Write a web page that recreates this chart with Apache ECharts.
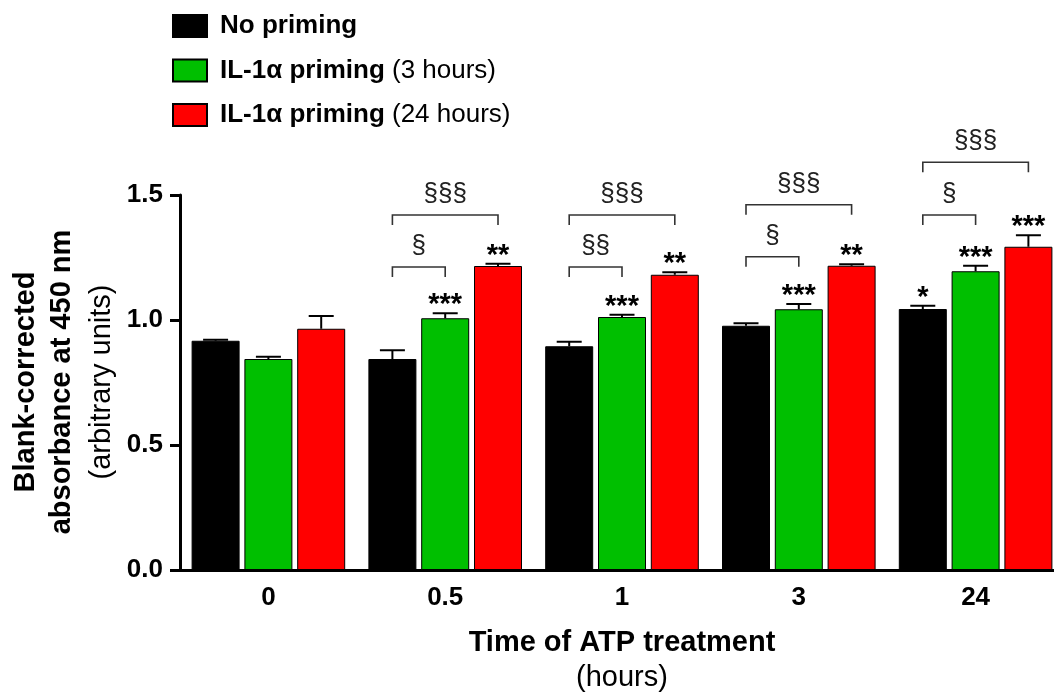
<!DOCTYPE html>
<html>
<head>
<meta charset="utf-8">
<script src="https://cdn.jsdelivr.net/npm/echarts@6/dist/echarts.min.js"></script>
<style>
html,body{margin:0;padding:0;background:#fff;}
#chart{width:1054px;height:694px;}
</style>
</head>
<body>
<div id="chart"></div>
<script>
// ---- data ----
const categories = ['0', '0.5', '1', '3', '24'];
const seriesNames = ['No priming', 'IL-1\u03b1 priming (3 hours)', 'IL-1\u03b1 priming (24 hours)'];
const noPriming   = [0.917, 0.844, 0.895, 0.977, 1.044];
const noPrimingErr = [0.004, 0.035, 0.018, 0.010, 0.013];
const il1a3h      = [0.844, 1.007, 1.012, 1.043, 1.195];
const il1a3hErr   = [0.009, 0.020, 0.009, 0.021, 0.022];
const il1a24h     = [0.965, 1.216, 1.181, 1.217, 1.293];
const il1a24hErr  = [0.051, 0.009, 0.010, 0.006, 0.046];
const noPrimingStars = ['', '', '', '', '*'];
const il1a3hStars    = ['', '***', '***', '***', '***'];
const il1a24hStars   = ['', '**', '**', '**', '***'];
const yTickValues = [0, 0.5, 1.0, 1.5];
// brackets: all start at "No priming" bar of the category
const bracketCats   = [1, 1, 2, 2, 3, 3, 4, 4];
const bracketTo     = [1, 2, 1, 2, 1, 2, 1, 2];
const bracketLevels = [1.212, 1.42, 1.212, 1.42, 1.253, 1.461, 1.42, 1.631];
const bracketLabels = ['\u00a7', '\u00a7\u00a7\u00a7', '\u00a7\u00a7', '\u00a7\u00a7\u00a7', '\u00a7', '\u00a7\u00a7\u00a7', '\u00a7', '\u00a7\u00a7\u00a7'];

// ---- style ----
const FONT = '"Liberation Sans", Arial, sans-serif';
const COLORS = ['#000000', '#00BF00', '#FF0000'];
const BAR_W = 48;
const BAR_GAP = 0.1;
const OFFSET = BAR_W * (1 + BAR_GAP);

const values = [noPriming, il1a3h, il1a24h];
const errs = [noPrimingErr, il1a3hErr, il1a24hErr];
const stars = [noPrimingStars, il1a3hStars, il1a24hStars];

const errRows = [];
const errStars = [];
for (let s = 0; s < 3; s++) {
  for (let c = 0; c < categories.length; c++) {
    errRows.push([c, s, values[s][c], errs[s][c]]);
    errStars.push(stars[s][c]);
  }
}
const bracketRows = bracketCats.map((c, i) => [c, 0, bracketTo[i], bracketLevels[i]]);

const chart = echarts.init(document.getElementById('chart'), null, {renderer: 'canvas'});

const barSeries = seriesNames.map((name, s) => ({
  name: name,
  type: 'bar',
  data: values[s],
  barWidth: BAR_W,
  barGap: (BAR_GAP * 100) + '%',
  itemStyle: {color: COLORS[s], borderColor: '#000', borderWidth: 1},
  emphasis: {disabled: true},
  z: 2
}));

const option = {
  backgroundColor: '#fff',
  animation: false,
  textStyle: {fontFamily: FONT},
  grid: {left: 180, top: 195, width: 884, height: 375, containLabel: false, outerBoundsMode: 'none'},
  legend: {
    orient: 'vertical',
    left: 167,
    top: 8,
    itemWidth: 34,
    itemHeight: 22,
    itemGap: 18.5,
    icon: 'rect',
    selectedMode: false,
    data: seriesNames,
    formatter: function (name) {
      const k = name.indexOf(' (');
      if (k < 0) return '{sp|}{b|' + name + '}';
      return '{sp|}{b|' + name.slice(0, k) + '}{n| ' + name.slice(k + 1) + '}';
    },
    textStyle: {
      fontFamily: FONT,
      lineHeight: 22,
      rich: {
        sp: {width: 8},
        b: {fontFamily: FONT, fontWeight: 'bold', fontSize: 26, color: '#000', lineHeight: 22},
        n: {fontFamily: FONT, fontWeight: 'normal', fontSize: 26, color: '#000', lineHeight: 22}
      }
    }
  },
  xAxis: {
    type: 'category',
    data: categories,
    name: '{b|Time of ATP treatment}\n{n|(hours)}',
    nameLocation: 'middle',
    nameGap: 55,
    nameTextStyle: {
      rich: {
        b: {fontFamily: FONT, fontWeight: 'bold', fontSize: 29, color: '#000', lineHeight: 35},
        n: {fontFamily: FONT, fontWeight: 'normal', fontSize: 29, color: '#000', lineHeight: 35}
      }
    },
    axisLine: {lineStyle: {color: '#000', width: 3}},
    axisTick: {alignWithLabel: true, length: 10, lineStyle: {color: '#000', width: 3}},
    axisLabel: {color: '#000', fontFamily: FONT, fontWeight: 'bold', fontSize: 26, margin: 15},
    splitLine: {show: false}
  },
  yAxis: {
    type: 'value',
    min: yTickValues[0],
    max: yTickValues[yTickValues.length - 1],
    interval: yTickValues[1] - yTickValues[0],
    axisLine: {show: true, lineStyle: {color: '#000', width: 3}},
    axisTick: {show: true, length: 10, lineStyle: {color: '#000', width: 3}},
    axisLabel: {color: '#000', fontFamily: FONT, fontWeight: 'bold', fontSize: 26, margin: 17,
      formatter: v => v.toFixed(1)},
    splitLine: {show: false}
  },
  graphic: [
    {type: 'text', x: 26, y: 382, rotation: Math.PI / 2, z: 10,
     style: {text: 'Blank-corrected', font: 'bold 29px ' + FONT, fill: '#000', textAlign: 'center', textVerticalAlign: 'middle'}},
    {type: 'text', x: 62, y: 382, rotation: Math.PI / 2, z: 10,
     style: {text: 'absorbance at 450 nm', font: 'bold 29px ' + FONT, fill: '#000', textAlign: 'center', textVerticalAlign: 'middle'}},
    {type: 'text', x: 102, y: 382, rotation: Math.PI / 2, z: 10,
     style: {text: '(arbitrary units)', font: 'normal 29px ' + FONT, fill: '#000', textAlign: 'center', textVerticalAlign: 'middle'}}
  ],
  series: barSeries.concat([
    {
      type: 'custom',
      name: 'errors',
      data: errRows,
      encode: {x: 0, y: 2},
      clip: false,
      z: 5,
      silent: true,
      renderItem: function (params, api) {
        const c = api.value(0), s = api.value(1), v = api.value(2), e = api.value(3);
        const base = api.coord([c, v]);
        const top = api.coord([c, v + e]);
        const x = base[0] + (s - 1) * OFFSET;
        const children = [
          {type: 'line', shape: {x1: x, y1: base[1], x2: x, y2: top[1]}, style: {stroke: '#000', lineWidth: 2}},
          {type: 'line', shape: {x1: x - 12.5, y1: top[1], x2: x + 12.5, y2: top[1]}, style: {stroke: '#000', lineWidth: 2}}
        ];
        const star = errStars[params.dataIndex];
        if (star) {
          children.push({type: 'text', x: x, y: top[1] - 8,
            style: {text: star, font: 'bold 29px ' + FONT, fill: '#000', textAlign: 'center', textVerticalAlign: 'middle'}});
        }
        return {type: 'group', children: children};
      }
    },
    {
      type: 'custom',
      name: 'brackets',
      data: bracketRows,
      encode: {x: 0, y: 3},
      clip: false,
      z: 5,
      silent: true,
      renderItem: function (params, api) {
        const c = api.value(0), a = api.value(1), b = api.value(2), lvl = api.value(3);
        const p = api.coord([c, lvl]);
        const xa = p[0] + (a - 1) * OFFSET;
        const xb = p[0] + (b - 1) * OFFSET;
        const y = p[1];
        return {type: 'group', children: [
          {type: 'polyline', shape: {points: [[xa, y + 10], [xa, y], [xb, y], [xb, y + 10]]},
           style: {stroke: '#333', lineWidth: 1.6, fill: null}},
          {type: 'text', x: (xa + xb) / 2, y: y - 21,
           style: {text: bracketLabels[params.dataIndex], font: 'normal 26px ' + FONT, fill: '#222', textAlign: 'center', textVerticalAlign: 'middle'}}
        ]};
      }
    }
  ])
};
chart.setOption(option);
</script>
</body>
</html>
